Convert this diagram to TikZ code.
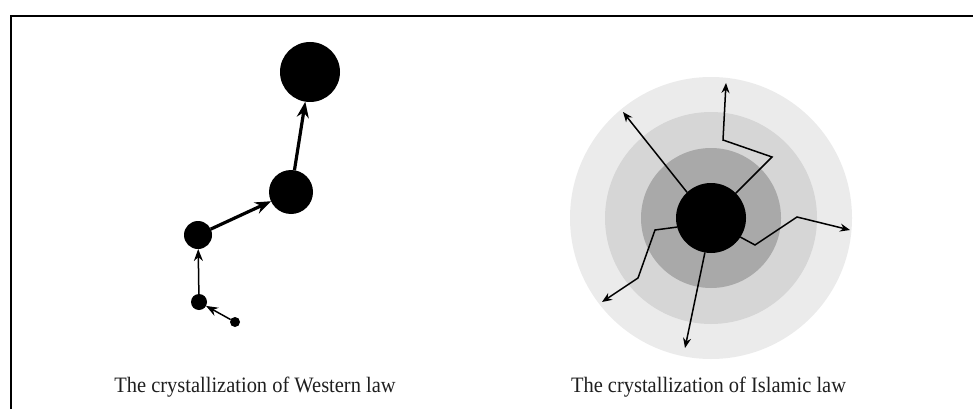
\documentclass[tikz,border=0pt]{standalone}
\usepackage{fontspec}
\setmainfont{Liberation Serif}
\usepackage{tikz}
\usetikzlibrary{arrows.meta}
\definecolor{ringout}{HTML}{EBEBEB}
\definecolor{ringmid}{HTML}{D6D6D6}
\definecolor{ringin}{HTML}{A9A9A9}
\newcommand{\captxt}[1]{\scalebox{0.93}[1]{#1}}

\begin{document}
\begin{tikzpicture}[x=1pt, y=-1pt, every node/.style={font=\fontsize{22}{26}\selectfont, text=black!88}, dot/.style={circle, fill=black, inner sep=0pt, outer sep=0pt}, ring/.style={circle, inner sep=0pt, outer sep=0pt}, thin arr/.style={-{Stealth[length=12pt,width=9pt]}, line width=1.5pt}, thick arr/.style={-{Stealth[length=16pt,width=12pt]}, line width=3.2pt}, out arr/.style={-{Stealth[length=10pt,width=8pt]}, line width=1.5pt}]
\useasboundingbox (0,0) rectangle (973,409);
\draw[line width=2pt] (11,409) -- (11,16) -- (973,16);
% western law
\node[dot, minimum size=60pt] (w1) at (310,72) {};
\node[dot, minimum size=44pt] (w2) at (291,192) {};
\node[dot, minimum size=28pt] (w3) at (198,235) {};
\node[dot, minimum size=16pt] (w4) at (199,302) {};
\node[dot, minimum size=10pt] (w5) at (235,322) {};
\draw[thin arr] (w5)--(w4);
\draw[thin arr] (w4)--(w3);
\draw[thick arr] (w3)--(w2);
\draw[thick arr] (w2)--(w1);
\node[anchor=base] (westtext) at (255,392) {\captxt{The crystallization of Western law}};
% islamic law
\node[ring, fill=ringout, minimum size=282pt] (outer) at (711,218) {};
\node[ring, fill=ringmid, minimum size=212pt] (middle) at (711,218) {};
\node[ring, fill=ringin, minimum size=140pt] (inner) at (711,218) {};
\node[dot, minimum size=70pt] (core) at (711,218) {};
\coordinate (e1) at (623,112);
\coordinate (e2) at (726,83);
\coordinate (e3) at (850,230);
\coordinate (e4) at (685,348);
\coordinate (e5) at (602,302);
\draw[out arr] (core.133)--(e1);
\draw[out arr] (core.45)--(772,157)--(723,140)--(e2);
\draw[out arr] (core.-33)--(755,245)--(797,217)--(e3);
\draw[out arr] (core.-100)--(e4);
\draw[out arr] (core.195)--(655,230)--(638,278)--(e5);
\node[anchor=base] (islamtext) at (708.5,392) {\captxt{The crystallization of Islamic law}};
\end{tikzpicture}
\end{document}
